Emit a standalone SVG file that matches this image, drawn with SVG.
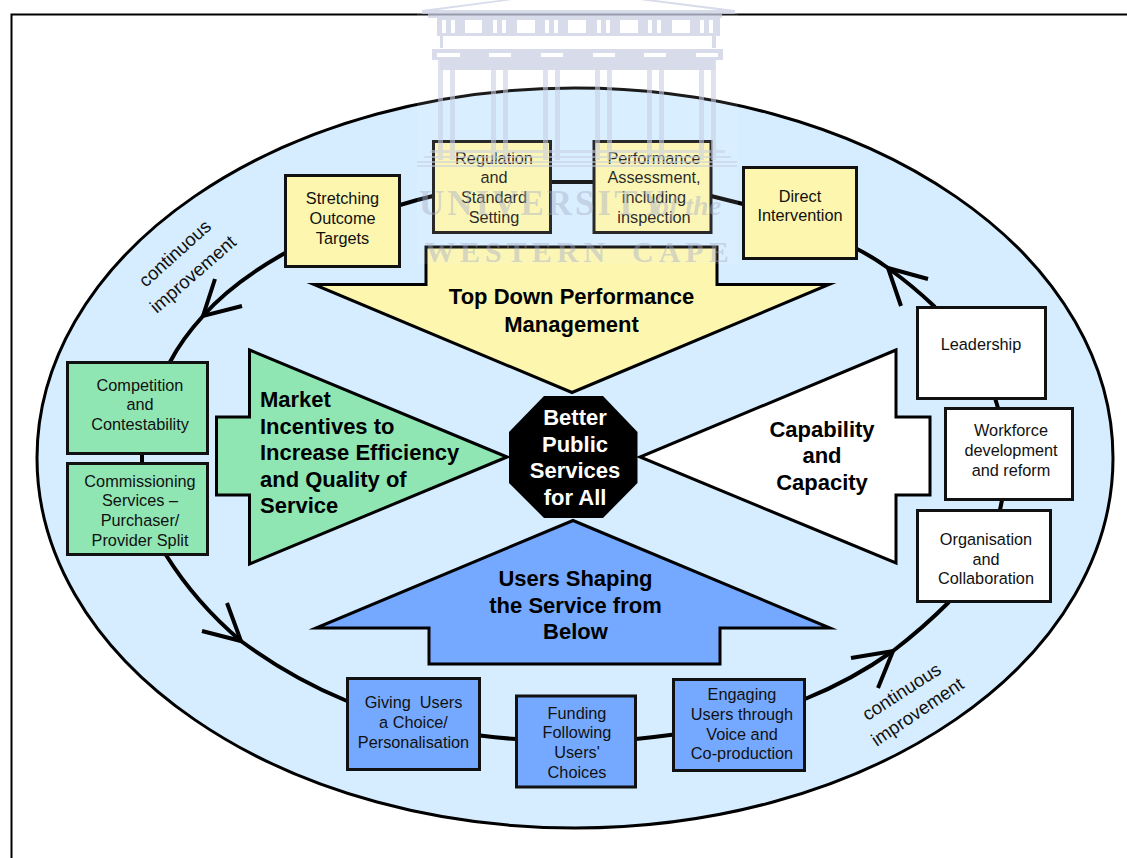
<svg xmlns="http://www.w3.org/2000/svg" width="1127" height="858" viewBox="0 0 1127 858">
<style>
text{font-family:"Liberation Sans",Arial,sans-serif;fill:#111;white-space:pre}
.t{font-size:16.300px;text-anchor:middle}
.l{font-size:18.500px;text-anchor:middle}
.b{font-size:22px;font-weight:bold;text-anchor:middle;fill:#000}
.bl{font-size:22px;font-weight:bold;fill:#000}
.box{stroke:#111;stroke-width:3;stroke-linejoin:miter}
.arr{stroke:#000;stroke-width:3;stroke-linejoin:miter;stroke-miterlimit:20}
.y{fill:#FCF6AE}.g{fill:#8FE6B3}.u{fill:#75A9FF}.n{fill:#fff}
.c{fill:none;stroke:#000;stroke-width:4}
.wm{fill:#CBD0E4}
.wt{font-family:"Liberation Serif",serif;font-size:35px;fill:#A9B0CC;fill-opacity:.62;font-weight:bold}
</style>
<rect width="1127" height="858" fill="#fff"/>
<path d="M11.500 858V14.500H1127" fill="none" stroke="#000" stroke-width="2"/>
<ellipse id="field" cx="575" cy="458" rx="538" ry="370" fill="#D5EDFF" stroke="#000" stroke-width="3"/>
<g id="connectors">
<path class="c" d="M285 253Q232 283 203 316Q182 339 170 362"/>
<path class="c" d="M215 279L203 316L242 306"/>
<path class="c" d="M400 205Q416 200 433 196"/>
<path class="c" d="M551 182H594"/>
<path class="c" d="M711 196Q727 200 743 204"/>
<path class="c" d="M857 249Q873 257 888 268Q913 286 935 307"/>
<path class="c" d="M928 279L888 268L901 306"/>
<path class="c" d="M995 398L998 408"/>
<path class="c" d="M1002 500L1000 510"/>
<path class="c" d="M949 602Q923 628 893 651Q852 680 805 699"/>
<path class="c" d="M851 658L893 651L878 688"/>
<path class="c" d="M636 739Q655 737 674 734.500"/>
<path class="c" d="M480 735.500Q498 738 516 739"/>
<path class="c" d="M347 701Q291 678 241 641Q196 603 166 555"/>
<path class="c" d="M227 603L241 641L202 631"/>
<path class="c" d="M142 454V463"/>
</g>
<g id="top-down"><polygon class="arr y" points="426,247 717,247 717,284.500 829,284.500 572,392.500 314,284.500 426,284.500"/>
<text class="b" x="571.500" y="304">Top Down Performance</text><text class="b" x="571.500" y="332">Management</text></g>
<g id="market"><polygon class="arr g" points="249.500,350 507,457 249.500,564 249.500,495 216.500,495 216.500,417 249.500,417"/>
<text class="bl" x="260" y="407">Market</text><text class="bl" x="260" y="434">Incentives to</text><text class="bl" x="260" y="460">Increase Efficiency</text><text class="bl" x="260" y="487">and Quality of</text><text class="bl" x="260" y="513">Service</text></g>
<g id="capability"><polygon class="arr n" points="896,350 640,457 896,563 896,495 930,495 930,417 896,417"/>
<text class="b" x="822" y="437">Capability</text><text class="b" x="822" y="463">and</text><text class="b" x="822" y="490">Capacity</text></g>
<g id="users"><polygon class="arr u" points="573,520.500 830,628 720,628 720,664 429,664 429,628 316,628"/>
<text class="b" x="575.500" y="586">Users Shaping</text><text class="b" x="575.500" y="613">the Service from</text><text class="b" x="575.500" y="639">Below</text></g>
<g id="centre"><polygon fill="#000" points="544,396 603,396 637.500,432 637.500,483 603,518 544,518 509,483 509,432"/>
<text class="b" x="575" y="425" style="fill:#fff">Better</text><text class="b" x="575" y="452" style="fill:#fff">Public</text><text class="b" x="575" y="478" style="fill:#fff">Services</text><text class="b" x="575" y="505" style="fill:#fff">for All</text></g>
<g id="stretching"><rect class="box y" x="285.500" y="175.500" width="114" height="91"/><text class="t" x="342.500" y="204">Stretching</text><text class="t" x="342.500" y="224">Outcome</text><text class="t" x="342.500" y="244">Targets</text></g>
<g id="regulation"><rect class="box y" x="433.500" y="141.500" width="117" height="91"/><text class="t" x="494" y="164">Regulation</text><text class="t" x="494" y="183">and</text><text class="t" x="494" y="203">Standard</text><text class="t" x="494" y="223">Setting</text></g>
<g id="performance"><rect class="box y" x="594" y="141.500" width="117" height="91"/><text class="t" x="654" y="164">Performance</text><text class="t" x="654" y="183">Assessment,</text><text class="t" x="654" y="203">including</text><text class="t" x="654" y="223">inspection</text></g>
<g id="direct"><rect class="box y" x="743.500" y="167.500" width="113" height="91"/><text class="t" x="800" y="202">Direct</text><text class="t" x="800" y="221">Intervention</text></g>
<g id="competition"><rect class="box g" x="67.500" y="362.500" width="140" height="91"/><text class="t" x="140" y="391">Competition</text><text class="t" x="140" y="410">and</text><text class="t" x="140" y="430">Contestability</text></g>
<g id="commissioning"><rect class="box g" x="67.500" y="463.500" width="140" height="91"/><text class="t" x="140" y="487">Commissioning</text><text class="t" x="140" y="506">Services –</text><text class="t" x="140" y="526">Purchaser/</text><text class="t" x="140" y="546">Provider Split</text></g>
<g id="leadership"><rect class="box n" x="917.500" y="307.500" width="128" height="91"/><text class="t" x="981" y="350">Leadership</text></g>
<g id="workforce"><rect class="box n" x="945.500" y="408.500" width="127" height="91"/><text class="t" x="1011" y="436">Workforce</text><text class="t" x="1011" y="456">development</text><text class="t" x="1011" y="476">and reform</text></g>
<g id="organisation"><rect class="box n" x="917.500" y="510.500" width="133" height="91"/><text class="t" x="986" y="545">Organisation</text><text class="t" x="986" y="565">and</text><text class="t" x="986" y="584">Collaboration</text></g>
<g id="giving"><rect class="box u" x="347.500" y="678.500" width="132" height="91"/><text class="t" x="413.500" y="708">Giving  Users</text><text class="t" x="413.500" y="728">a Choice/</text><text class="t" x="413.500" y="748">Personalisation</text></g>
<g id="funding"><rect class="box u" x="516.500" y="696" width="119" height="91"/><text class="t" x="577" y="719">Funding</text><text class="t" x="577" y="738">Following</text><text class="t" x="577" y="758">Users'</text><text class="t" x="577" y="778">Choices</text></g>
<g id="engaging"><rect class="box u" x="673.500" y="679.500" width="131" height="91"/><text class="t" x="742" y="700">Engaging</text><text class="t" x="742" y="720">Users through</text><text class="t" x="742" y="740">Voice and</text><text class="t" x="742" y="759">Co-production</text></g>
<g id="label-left"><text class="l" transform="translate(179 258) rotate(-42)">continuous</text><text class="l" transform="translate(197 279) rotate(-41)">improvement</text></g>
<g id="label-right"><text class="l" transform="translate(905 697) rotate(-33)">continuous</text><text class="l" transform="translate(921 717) rotate(-34)">improvement</text></g>
<g id="watermark" opacity=".75">
<rect x="417" y="0" width="321" height="264" fill="#fff" opacity=".14"/>
<path class="wm" d="M422 10L500 0H512L438 10H718L640 0H655L735 10V14H722V18H428V14H422Z"/>
<path class="wm" d="M437 18H720V36H437ZM440 36H443V48H440ZM712 36H716V48H712Z"/>
<path class="wm" d="M432 49H723V60H715V70H440V60H432Z"/>
<g fill="#fff"><rect x="465" y="20" width="17" height="13"/><rect x="517" y="20" width="18" height="13"/><rect x="568" y="20" width="18" height="13"/><rect x="620" y="20" width="18" height="13"/><rect x="672" y="20" width="18" height="13"/>
<rect x="442" y="20" width="4" height="13"/><rect x="451" y="20" width="4" height="13"/><rect x="493" y="20" width="4" height="13"/><rect x="502" y="20" width="4" height="13"/><rect x="545" y="20" width="4" height="13"/><rect x="554" y="20" width="4" height="13"/><rect x="597" y="20" width="4" height="13"/><rect x="606" y="20" width="4" height="13"/><rect x="648" y="20" width="4" height="13"/><rect x="657" y="20" width="4" height="13"/><rect x="700" y="20" width="4" height="13"/><rect x="709" y="20" width="4" height="13"/>
<rect x="437" y="53" width="23" height="4"/><rect x="489" y="53" width="22" height="4"/><rect x="541" y="53" width="22" height="4"/><rect x="593" y="53" width="22" height="4"/><rect x="644" y="53" width="22" height="4"/><rect x="696" y="53" width="22" height="4"/></g>
<g class="wm" opacity=".8"><rect x="438" y="60" width="5" height="100"/><rect x="450" y="60" width="5" height="100"/><rect x="491" y="60" width="5" height="100"/><rect x="503" y="60" width="5" height="100"/><rect x="543" y="60" width="5" height="100"/><rect x="555" y="60" width="5" height="100"/><rect x="595" y="60" width="5" height="100"/><rect x="607" y="60" width="5" height="100"/><rect x="647" y="60" width="5" height="100"/><rect x="659" y="60" width="5" height="100"/><rect x="699" y="60" width="5" height="100"/><rect x="711" y="60" width="5" height="100"/>
<rect x="430" y="150" width="295" height="3"/><rect x="424" y="156" width="307" height="2"/><rect x="417" y="161" width="320" height="2"/><rect x="417" y="165" width="320" height="2"/></g>
<text class="wt" x="419" y="215" letter-spacing="3">UNIVERSITY</text><text class="wt" x="655" y="215" font-style="italic" style="font-size:28px">of the</text>
<text class="wt" x="425" y="262" letter-spacing="5" style="font-size:30px">WESTERN</text><text class="wt" x="632" y="262" letter-spacing="5" style="font-size:30px">CAPE</text>
</g>
</svg>
